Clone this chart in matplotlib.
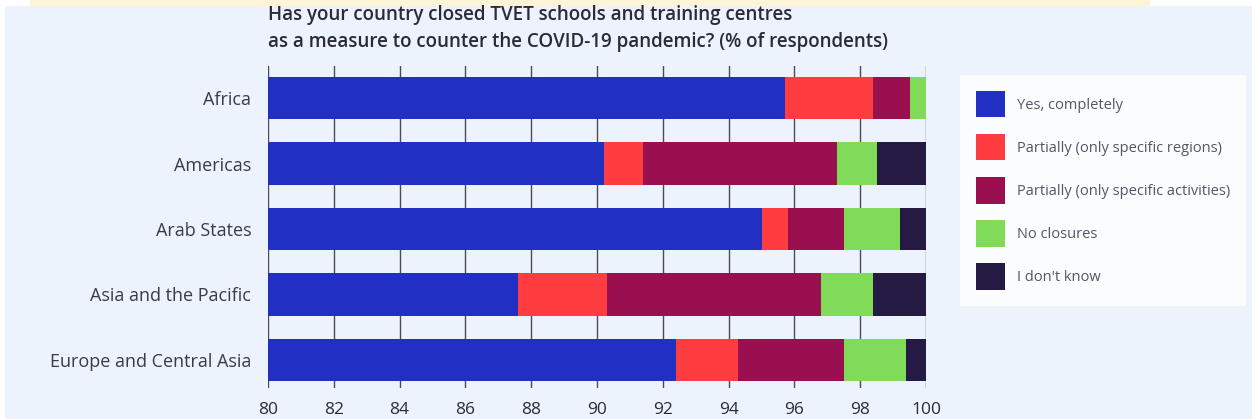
import numpy as np
import matplotlib.pyplot as plt
from matplotlib.patches import Rectangle, Patch

regions = ['Africa', 'Americas', 'Arab States', 'Asia and the Pacific', 'Europe and Central Asia']
labels = ['Yes, completely', 'Partially (only specific regions)',
          'Partially (only specific activities)', 'No closures', "I don't know"]
colors = ['#2130C2', '#FF3D41', '#990F4F', '#80DB58', '#241A44']

yes_completely = [95.7, 90.2, 95.0, 87.6, 92.4]
partial_regions = [2.7, 1.2, 0.8, 2.7, 1.9]
partial_activities = [1.1, 5.9, 1.7, 6.5, 3.2]
no_closures = [0.5, 1.2, 1.7, 1.6, 1.9]
dont_know = [0.0, 1.5, 0.8, 1.6, 0.6]

series = [yes_completely, partial_regions, partial_activities, no_closures, dont_know]

W, H = 1257, 419
fig = plt.figure(figsize=(W / 100, H / 100), dpi=100)
fig.patch.set_facecolor('white')

# light blue panel + faint yellow header strip
fig.patches.append(Rectangle((5 / W, 0), 1247 / W, 413 / H, transform=fig.transFigure,
                             facecolor='#ECF3FC', edgecolor='none', zorder=-10))
fig.patches.append(Rectangle((30 / W, 413 / H), 1120 / W, 6 / H, transform=fig.transFigure,
                             facecolor='#FFF4D6', edgecolor='none', zorder=-10))

ax = fig.add_axes([268 / W, (H - 388) / H, (926 - 268) / W, (388 - 66) / H])
ax.set_facecolor('none')

y = np.arange(len(regions))
left = np.zeros(len(regions))
for vals, col, lab in zip(series, colors, labels):
    ax.barh(y, vals, left=left, height=0.65, color=col, label=lab, zorder=3)
    left += np.array(vals)

ax.set_xlim(80, 100)
ax.set_ylim(4.43, -0.49)
ax.set_xticks(np.arange(80, 101, 2))
ax.set_yticks(y)
ax.set_yticklabels(regions, fontsize=13, color='#3a3a4a', family='Open Sans')
for t in ax.get_xticklabels():
    t.set_fontsize(12.5)
    t.set_color('#2a2a3a')
    t.set_family('Open Sans')
ax.tick_params(axis='both', length=0, pad=12)
ax.tick_params(axis='x', pad=10)
ax.grid(axis='x', color='#4a4a5a', linewidth=1.0, zorder=1)
for s in ax.spines.values():
    s.set_visible(False)

fig.text(268 / W, (H - 5) / H,
         'Has your country closed TVET schools and training centres\n'
         'as a measure to counter the COVID-19 pandemic? (% of respondents)',
         ha='left', va='top', fontsize=13.5, fontweight='semibold', color='#2a2a3a',
         family='Open Sans', linespacing=1.45)

# legend box
handles = [Patch(facecolor=c, edgecolor='none') for c in colors]
leg = fig.legend(handles, labels, loc='upper left', bbox_to_anchor=(960 / W, (H - 75) / H),
                 frameon=True, handlelength=2.0, handleheight=2.4,
                 labelspacing=1.15, borderpad=1.1, borderaxespad=0, handletextpad=0.8,
                 prop={'family': 'Open Sans', 'size': 10.5})
leg.get_frame().set_facecolor('white')
leg.get_frame().set_edgecolor('none')
leg.get_frame().set_boxstyle('square', pad=0)
for t in leg.get_texts():
    t.set_color('#555566')

fig.savefig('out.png', dpi=100, facecolor=fig.get_facecolor())
